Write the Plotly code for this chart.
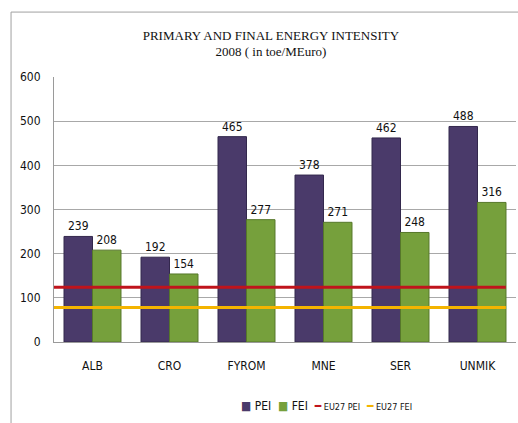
import plotly.graph_objects as go

# data
countries = ["ALB", "CRO", "FYROM", "MNE", "SER", "UNMIK"]
pei = [239, 192, 465, 378, 462, 488]
fei = [208, 154, 277, 271, 248, 316]
eu27_pei = 124
eu27_fei = 78

C_PEI = "#4a3a6a"
C_FEI = "#76a03c"
C_EU_PEI = "#c0141c"
C_EU_FEI = "#f4b400"

FONT_NARROW = "DejaVu Sans Condensed, Liberation Sans Narrow, Liberation Sans, sans-serif"

fig = go.Figure()

# PEI bars
fig.add_trace(go.Bar(
    x=countries, y=pei, name="PEI",
    marker=dict(color=C_PEI, line=dict(color="#33284d", width=1)),
    text=pei, textposition="outside",
    textfont=dict(family=FONT_NARROW, size=12, color="#111111"),
    cliponaxis=False,
))

# FEI bars
fig.add_trace(go.Bar(
    x=countries, y=fei, name="FEI",
    marker=dict(color=C_FEI, line=dict(color="#56772a", width=1)),
    text=fei, textposition="outside",
    textfont=dict(family=FONT_NARROW, size=12, color="#111111"),
    cliponaxis=False,
))

# EU27 reference lines across the plot (overlay axis 0..1)
fig.add_trace(go.Scatter(
    x=[0, 0.978], y=[eu27_pei, eu27_pei], xaxis="x2", mode="lines",
    name="EU27 PEI", line=dict(color=C_EU_PEI, width=3),
))
fig.add_trace(go.Scatter(
    x=[0, 0.978], y=[eu27_fei, eu27_fei], xaxis="x2", mode="lines",
    name="EU27 FEI", line=dict(color=C_EU_FEI, width=3),
))

# compact legend, like the original office chart
legend_text = (
    f'<span style="color:{C_PEI}">■</span> PEI  '
    f'<span style="color:{C_FEI}">■</span> FEI  '
    f'<span style="color:{C_EU_PEI}"><b>━</b></span><span style="font-size:9px"> EU27 PEI</span>  '
    f'<span style="color:{C_EU_FEI}"><b>━</b></span><span style="font-size:9px"> EU27 FEI</span>'
)

fig.update_layout(
    width=518, height=423,
    margin=dict(l=54, r=2, t=77, b=81),
    paper_bgcolor="white", plot_bgcolor="white",
    barmode="group", bargap=0.26, bargroupgap=0,
    showlegend=False,
    title=dict(
        text="PRIMARY AND FINAL ENERGY INTENSITY<br>2008 ( in toe/MEuro)",
        x=0.523, xanchor="center", y=0.9066, yanchor="middle",
        font=dict(family="Liberation Serif, Times New Roman, serif", size=13, color="#111111"),
    ),
    xaxis=dict(
        showline=True, linecolor="#9a9a9a", linewidth=1,
        ticks="", ticklabelstandoff=13,
        tickfont=dict(family=FONT_NARROW, size=12, color="#111111"),
    ),
    xaxis2=dict(overlaying="x", range=[0, 1], visible=False),
    yaxis=dict(
        range=[0, 600], dtick=100,
        showgrid=True, gridcolor="#a8a8a8", gridwidth=1,
        showline=True, linecolor="#9a9a9a", linewidth=1,
        zeroline=False,
        ticks="", ticklabelstandoff=10,
        tickfont=dict(family=FONT_NARROW, size=12, color="#111111"),
    ),
    annotations=[dict(
        text=legend_text, xref="paper", yref="paper",
        x=0.59, y=-0.2415, xanchor="center", yanchor="middle",
        showarrow=False,
        font=dict(family=FONT_NARROW, size=12, color="#111111"),
    )],
    shapes=[dict(
        type="rect", xref="paper", yref="paper",
        x0=-0.093, x1=1.2, y0=-0.5, y1=1.245,
        line=dict(color="#a0a0a0", width=1), fillcolor="rgba(0,0,0,0)",
        layer="below",
    )],
)

# drop the default page margin so the figure fills the window exactly
fig.write_html(
    "out.html",
    config={"displayModeBar": False},
    post_script="document.body.style.margin='0';document.documentElement.style.overflow='hidden';",
)
